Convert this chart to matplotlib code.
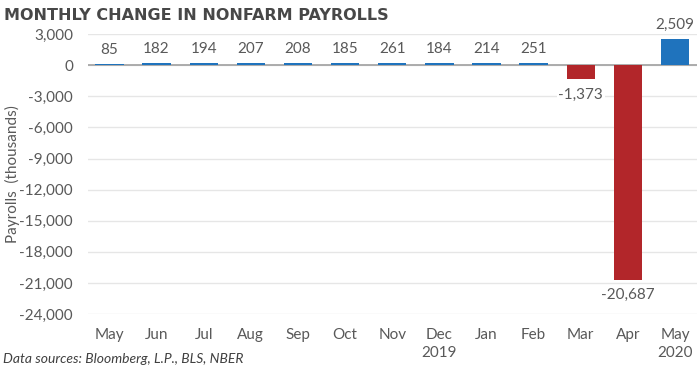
import matplotlib.pyplot as plt
import numpy as np

# Data
months = ['May', 'Jun', 'Jul', 'Aug', 'Sep', 'Oct', 'Nov', 'Dec\n2019',
          'Jan', 'Feb', 'Mar', 'Apr', 'May\n2020']
payrolls = [85, 182, 194, 207, 208, 185, 261, 184, 214, 251, -1373, -20687, 2509]
yticks = np.arange(-24000, 3001, 3000)

blue = '#1f73bd'
red = '#b2262a'
grey = '#595959'

plt.rcParams['font.family'] = ['Lato', 'DejaVu Sans']

fig = plt.figure(figsize=(7, 3.71), dpi=100)
ax = fig.add_axes([0.126, 0.1536, 0.87, 0.7544])

x = np.arange(len(months))
colors = [blue if v >= 0 else red for v in payrolls]
ax.bar(x, payrolls, width=0.6, color=colors, zorder=3)

# Data labels
for xi, v in zip(x, payrolls):
    if v >= 0:
        ax.annotate(f'{v:,}', (xi, v), xytext=(0, 5), textcoords='offset points',
                    ha='center', va='bottom', fontsize=11, color=grey, zorder=4,
                    bbox=dict(facecolor='white', edgecolor='none', pad=1))
    else:
        ax.annotate(f'{v:,}', (xi, v), xytext=(0, -6), textcoords='offset points',
                    ha='center', va='top', fontsize=11, color=grey, zorder=4,
                    bbox=dict(facecolor='white', edgecolor='none', pad=1))

ax.set_xlim(-0.45, 12.47)
ax.set_ylim(-24000, 3000)
ax.set_yticks(yticks)
ax.set_yticklabels([f'{t:,}' for t in yticks])
ax.set_xticks(x)
ax.set_xticklabels(months, linespacing=1.35)
ax.tick_params(length=0, labelsize=11, colors=grey)
ax.tick_params(axis='y', pad=11)
ax.tick_params(axis='x', pad=10)

ax.grid(axis='y', color='#e6e6e6', linewidth=1, zorder=0)
ax.axhline(0, color='#a6a6a6', linewidth=1.3, zorder=2)
for s in ax.spines.values():
    s.set_visible(False)

ax.set_ylabel('Payrolls  (thousands)', fontsize=11, color=grey)
ax.yaxis.set_label_coords(-0.112, 0.5)

fig.text(0.006, 0.978, 'MONTHLY CHANGE IN NONFARM PAYROLLS', fontsize=11.5, fontweight='bold',
         family='DejaVu Sans', color='#474747', ha='left', va='top')
fig.text(0.004, 0.015, 'Data sources: Bloomberg, L.P., BLS, NBER', fontsize=10,
         style='italic', color='#404040', ha='left', va='bottom')

fig.savefig('out.png', dpi=100)
